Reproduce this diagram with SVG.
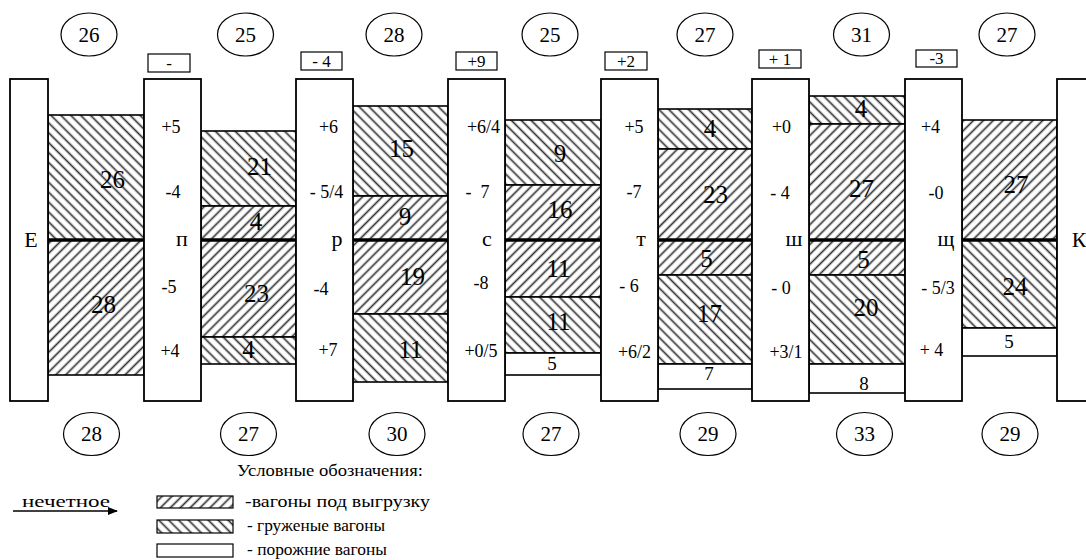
<svg xmlns="http://www.w3.org/2000/svg" width="1086" height="560" viewBox="0 0 1086 560" font-family="'Liberation Serif', 'Times New Roman', serif">
<defs>
<pattern id="fwd" patternUnits="userSpaceOnUse" width="7" height="7" patternTransform="rotate(45)"><rect width="7" height="7" fill="#fff"/><line x1="3.5" y1="-1" x2="3.5" y2="8" stroke="#333" stroke-width="1.7"/></pattern>
<pattern id="back" patternUnits="userSpaceOnUse" width="7" height="7" patternTransform="rotate(-45)"><rect width="7" height="7" fill="#fff"/><line x1="3.5" y1="-1" x2="3.5" y2="8" stroke="#333" stroke-width="1.7"/></pattern>
<marker id="arr" markerWidth="10" markerHeight="8" refX="9" refY="4" orient="auto" markerUnits="userSpaceOnUse"><path d="M0,0 L10,4 L0,8 Z" fill="#000"/></marker>
</defs>
<style>
text{font-family:'Liberation Serif','Times New Roman',serif;fill:#000}
.st{fill:#fff;stroke:#000;stroke-width:1.8}
.f{fill:url(#fwd);stroke:#000;stroke-width:1.6}
.b{fill:url(#back);stroke:#000;stroke-width:1.6}
.w{fill:#fff;stroke:#000;stroke-width:1.6}
.mid{stroke:#000;stroke-width:3.5}
.circ{fill:#fff;stroke:#000;stroke-width:1.2}
.box{fill:#fff;stroke:#000;stroke-width:1.2}
.cn{font-size:21px;text-anchor:middle}
.bn{font-size:17px;text-anchor:middle}
.sn{font-size:18px;text-anchor:middle}
.sl{font-size:22px;text-anchor:middle}
.num{font-size:25px;text-anchor:middle}
.wn{font-size:19px;text-anchor:middle}
.lg{font-size:17px}
</style>

<g id="circles-top">
<ellipse class="circ" cx="89" cy="34.5" rx="28" ry="21.5"/><text class="cn" x="89" y="41.5">26</text>
<ellipse class="circ" cx="245.5" cy="34.5" rx="28" ry="21.5"/><text class="cn" x="245.5" y="41.5">25</text>
<ellipse class="circ" cx="394" cy="34.5" rx="28" ry="21.5"/><text class="cn" x="394" y="41.5">28</text>
<ellipse class="circ" cx="550" cy="34.5" rx="28" ry="21.5"/><text class="cn" x="550" y="41.5">25</text>
<ellipse class="circ" cx="705" cy="34.5" rx="28" ry="21.5"/><text class="cn" x="705" y="41.5">27</text>
<ellipse class="circ" cx="861.5" cy="34.5" rx="28" ry="21.5"/><text class="cn" x="861.5" y="41.5">31</text>
<ellipse class="circ" cx="1007" cy="34.5" rx="28" ry="21.5"/><text class="cn" x="1007" y="41.5">27</text>
</g>

<g id="circles-bottom">
<ellipse class="circ" cx="91.5" cy="434" rx="28" ry="21.5"/><text class="cn" x="91.5" y="441">28</text>
<ellipse class="circ" cx="248.5" cy="434" rx="28" ry="21.5"/><text class="cn" x="248.5" y="441">27</text>
<ellipse class="circ" cx="397" cy="434" rx="28" ry="21.5"/><text class="cn" x="397" y="441">30</text>
<ellipse class="circ" cx="551" cy="434" rx="28" ry="21.5"/><text class="cn" x="551" y="441">27</text>
<ellipse class="circ" cx="708" cy="434" rx="28" ry="21.5"/><text class="cn" x="708" y="441">29</text>
<ellipse class="circ" cx="864.5" cy="434" rx="28" ry="21.5"/><text class="cn" x="864.5" y="441">33</text>
<ellipse class="circ" cx="1010" cy="434" rx="28" ry="21.5"/><text class="cn" x="1010" y="441">29</text>
</g>

<g id="balance-boxes">
<rect class="box" x="148" y="54" width="42" height="18"/><text class="bn" x="169" y="69">-</text>
<rect class="box" x="301" y="52" width="41" height="18"/><text class="bn" x="321.5" y="67">- 4</text>
<rect class="box" x="456" y="52" width="41" height="18"/><text class="bn" x="476.5" y="67">+9</text>
<rect class="box" x="605" y="52" width="42" height="18"/><text class="bn" x="626" y="67">+2</text>
<rect class="box" x="759" y="50" width="42" height="18"/><text class="bn" x="780" y="65">+ 1</text>
<rect class="box" x="916" y="50" width="41" height="17"/><text class="bn" x="936.5" y="64">-3</text>
</g>

<g id="gap-E-p">
<rect class="b" x="48" y="115" width="96" height="125"/>
<rect class="f" x="48" y="240" width="96" height="135"/>
<line class="mid" x1="48" y1="240" x2="144" y2="240"/>
<text class="num" x="112.5" y="188">26</text>
<text class="num" x="103.5" y="313">28</text>
</g>

<g id="gap-p-r">
<rect class="b" x="201" y="131" width="95" height="75"/>
<rect class="f" x="201" y="206" width="95" height="34"/>
<rect class="f" x="201" y="240" width="95" height="97"/>
<rect class="b" x="201" y="337" width="95" height="27"/>
<line class="mid" x1="201" y1="240" x2="296" y2="240"/>
<text class="num" x="259.5" y="175">21</text>
<text class="num" x="256" y="230">4</text>
<text class="num" x="256.5" y="302">23</text>
<text class="num" x="248.5" y="358">4</text>
</g>

<g id="gap-r-s">
<rect class="b" x="353" y="106" width="95" height="90"/>
<rect class="f" x="353" y="196" width="95" height="44"/>
<rect class="f" x="353" y="240" width="95" height="74"/>
<rect class="b" x="353" y="314" width="95" height="68"/>
<line class="mid" x1="353" y1="240" x2="448" y2="240"/>
<text class="num" x="401.5" y="157">15</text>
<text class="num" x="405" y="225">9</text>
<text class="num" x="412.5" y="285">19</text>
<text class="num" x="410.5" y="358">11</text>
</g>

<g id="gap-s-t">
<rect class="b" x="505" y="120" width="96" height="65"/>
<rect class="f" x="505" y="185" width="96" height="55"/>
<rect class="f" x="505" y="240" width="96" height="57"/>
<rect class="b" x="505" y="297" width="96" height="56"/>
<rect class="w" x="505" y="353" width="96" height="22"/>
<line class="mid" x1="505" y1="240" x2="601" y2="240"/>
<text class="num" x="560" y="162">9</text>
<text class="num" x="560" y="218">16</text>
<text class="num" x="558.5" y="277">11</text>
<text class="num" x="558.5" y="330">11</text>
<text class="wn" x="552" y="370">5</text>
</g>

<g id="gap-t-sh">
<rect class="b" x="658" y="109" width="94" height="40"/>
<rect class="f" x="658" y="149" width="94" height="91"/>
<rect class="f" x="658" y="240" width="94" height="35"/>
<rect class="b" x="658" y="275" width="94" height="89"/>
<rect class="w" x="658" y="364" width="94" height="25"/>
<line class="mid" x1="658" y1="240" x2="752" y2="240"/>
<text class="num" x="710" y="137">4</text>
<text class="num" x="715.5" y="203">23</text>
<text class="num" x="706.5" y="267">5</text>
<text class="num" x="709.5" y="322">17</text>
<text class="wn" x="709" y="380">7</text>
</g>

<g id="gap-sh-shch">
<rect class="b" x="809" y="96" width="96" height="28"/>
<rect class="f" x="809" y="124" width="96" height="116"/>
<rect class="f" x="809" y="240" width="96" height="35"/>
<rect class="b" x="809" y="275" width="96" height="89"/>
<rect class="w" x="809" y="364" width="96" height="29"/>
<line class="mid" x1="809" y1="240" x2="905" y2="240"/>
<text class="num" x="861" y="117">4</text>
<text class="num" x="861.5" y="197">27</text>
<text class="num" x="863.5" y="268">5</text>
<text class="num" x="866" y="316">20</text>
<text class="wn" x="864" y="390">8</text>
</g>

<g id="gap-shch-K">
<rect class="f" x="962" y="120" width="95" height="120"/>
<rect class="b" x="962" y="240" width="95" height="88"/>
<rect class="w" x="962" y="328" width="95" height="28"/>
<line class="mid" x1="962" y1="240" x2="1057" y2="240"/>
<text class="num" x="1016" y="193">27</text>
<text class="num" x="1015" y="295">24</text>
<text class="wn" x="1009" y="348">5</text>
</g>

<g id="station-E">
<rect class="st" x="10" y="79" width="38" height="322"/>
<text class="sl" x="31" y="247">Е</text>
</g>

<g id="station-p">
<rect class="st" x="144" y="79" width="57" height="322"/>
<text class="sn" x="171" y="133">+5</text>
<text class="sn" x="173" y="198">-4</text>
<text class="sl" x="182" y="246">п</text>
<text class="sn" x="169" y="293">-5</text>
<text class="sn" x="170" y="357">+4</text>
</g>

<g id="station-r">
<rect class="st" x="296" y="79" width="57" height="322"/>
<text class="sn" x="328.5" y="133">+6</text>
<text class="sn" x="326.5" y="198">- 5/4</text>
<text class="sl" x="337" y="246">р</text>
<text class="sn" x="321" y="295">-4</text>
<text class="sn" x="328" y="356">+7</text>
</g>

<g id="station-s">
<rect class="st" x="448" y="79" width="57" height="322"/>
<text class="sn" x="483.5" y="133">+6/4</text>
<text class="sn" x="477.5" y="198" xml:space="preserve">-  7</text>
<text class="sl" x="487" y="246">с</text>
<text class="sn" x="481" y="289">-8</text>
<text class="sn" x="481" y="357">+0/5</text>
</g>

<g id="station-t">
<rect class="st" x="601" y="79" width="57" height="322"/>
<text class="sn" x="634" y="133">+5</text>
<text class="sn" x="634" y="198">-7</text>
<text class="sl" x="641" y="246">т</text>
<text class="sn" x="629" y="292">- 6</text>
<text class="sn" x="634.5" y="358">+6/2</text>
</g>

<g id="station-sh">
<rect class="st" x="752" y="79" width="57" height="322"/>
<text class="sn" x="781.5" y="133">+0</text>
<text class="sn" x="780" y="199">- 4</text>
<text class="sl" x="794" y="246">ш</text>
<text class="sn" x="781" y="294">- 0</text>
<text class="sn" x="786" y="358">+3/1</text>
</g>

<g id="station-shch">
<rect class="st" x="905" y="79" width="57" height="322"/>
<text class="sn" x="930.5" y="133">+4</text>
<text class="sn" x="936" y="199">-0</text>
<text class="sl" x="946" y="246">щ</text>
<text class="sn" x="938" y="294">- 5/3</text>
<text class="sn" x="931.5" y="356">+ 4</text>
</g>

<g id="station-K">
<rect class="st" x="1057" y="79" width="45" height="322"/>
<text class="sl" x="1079" y="247">К</text>
</g>

<g id="legend">
<text class="lg" x="237" y="476" textLength="186" lengthAdjust="spacingAndGlyphs">Условные обозначения:</text>
<text class="lg" x="22" y="507" textLength="88" lengthAdjust="spacingAndGlyphs">нечетное</text>
<rect class="f" x="157" y="496" width="76" height="12" style="stroke-width:1.2"/>
<text class="lg" x="245" y="507" textLength="185" lengthAdjust="spacingAndGlyphs">-вагоны под выгрузку</text>
<rect class="b" x="157" y="520" width="76" height="13" style="stroke-width:1.2"/>
<text class="lg" x="247" y="531" textLength="138" lengthAdjust="spacingAndGlyphs">- груженые вагоны</text>
<rect class="w" x="157" y="544" width="76" height="13" style="stroke-width:1.2"/>
<text class="lg" x="247" y="555" textLength="140" lengthAdjust="spacingAndGlyphs">- порожние вагоны</text>
</g>

<g id="connectors">
<line x1="13" y1="511" x2="117" y2="511" stroke="#000" stroke-width="1.5" marker-end="url(#arr)"/>
</g>
</svg>
